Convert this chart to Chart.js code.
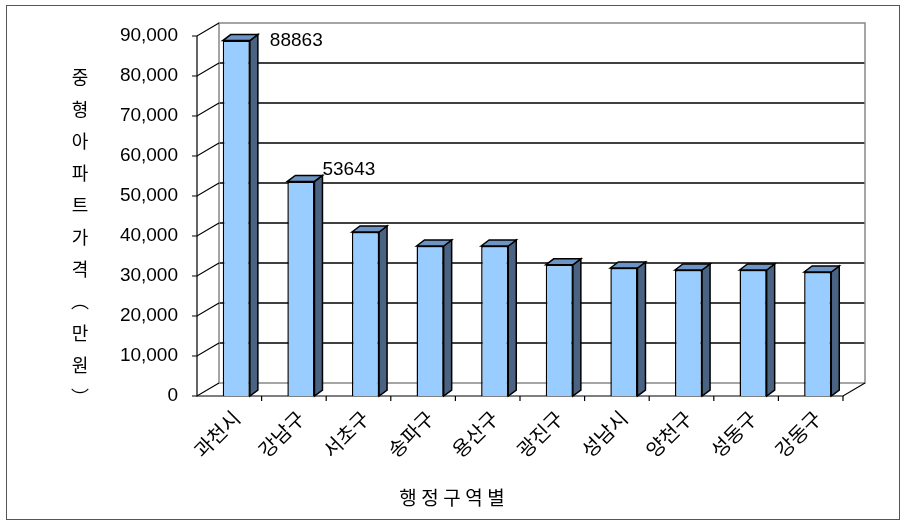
<!DOCTYPE html>
<html>
<head>
<meta charset="utf-8">
<script src="https://cdn.jsdelivr.net/npm/chart.js@4"></script>
<style>
body{margin:0;background:#fff}
#wrap{position:relative;width:906px;height:525px}
</style>
</head>
<body>
<div id="wrap"><canvas id="c" width="906" height="525"></canvas></div>
<script>

const categories=["과천시","강남구","서초구","송파구","용산구","광진구","성남시","양천구","성동구","강동구"]
const prices=[88863,53643,41000,37500,37500,32800,32000,31500,31500,31000]
const labelled=[0,1]
const yTitle="중형아파트가격︵만원︶"
const xTitle="행정구역별"

const FONT="'Liberation Sans', 'Noto Sans CJK KR', sans-serif"
const KFONT="'Noto Sans CJK KR', sans-serif"

/* 3D walls, bar faces, labels */

const threeD={
id:"threeD",
beforeDatasetsDraw(chart){
const ctx=chart.ctx, y=chart.scales.y, a=chart.chartArea
const fl=a.left-7, fr=a.right-7, dx=22, dy=-13
ctx.save()
ctx.strokeStyle="#000"
ctx.lineWidth=1.5
for(let v=10000;v<=80000;v+=10000){
let py=y.getPixelForValue(v)+dy
ctx.beginPath();ctx.moveTo(fl+dx,py);ctx.lineTo(fr+dx,py);ctx.stroke()
}
ctx.strokeStyle="#888"
ctx.lineWidth=1.5
let top=y.getPixelForValue(90000), bot=y.getPixelForValue(0)
ctx.strokeRect(fl+dx,top+dy,fr-fl,bot-top)
ctx.strokeStyle="#000"
ctx.lineWidth=1.2
for(let v=0;v<=90000;v+=10000){
let py=y.getPixelForValue(v)
ctx.beginPath();ctx.moveTo(fl-5,py);ctx.lineTo(fl,py);ctx.lineTo(fl+dx,py+dy);ctx.stroke()
}
ctx.beginPath();ctx.moveTo(fl,top);ctx.lineTo(fl,bot);ctx.lineTo(fr,bot);ctx.lineTo(fr+dx,bot+dy);ctx.stroke()
let step=(fr-fl)/categories.length
for(let i=1;i<=categories.length;i++){
ctx.beginPath();ctx.moveTo(fl+step*i,bot);ctx.lineTo(fl+step*i,bot+5);ctx.stroke()
}
ctx.restore()
},
afterDatasetsDraw(chart){
const ctx=chart.ctx
const meta=chart.getDatasetMeta(0)
const sx=8, sy=-6
ctx.save()
ctx.strokeStyle="#000"
ctx.lineWidth=1.5
meta.data.forEach((b,i)=>{
let l=b.x-b.width/2, r=b.x+b.width/2, t=b.y, bt=b.base
ctx.fillStyle="#4A6383"
ctx.beginPath();ctx.moveTo(r,t);ctx.lineTo(r+sx,t+sy);ctx.lineTo(r+sx,bt+sy);ctx.lineTo(r,bt);ctx.closePath();ctx.fill();ctx.stroke()
ctx.fillStyle="#6C94C4"
ctx.beginPath();ctx.moveTo(l,t);ctx.lineTo(l+sx,t+sy);ctx.lineTo(r+sx,t+sy);ctx.lineTo(r,t);ctx.closePath();ctx.fill();ctx.stroke()
if(labelled.includes(i)){
ctx.fillStyle="#000"
ctx.font="19px "+FONT
ctx.textBaseline="middle"
ctx.fillText(String(prices[i]),r+sx+(i==0?12:0),t+(i==0?0:-12))
}
})
/* axis titles */
ctx.fillStyle="#000"
ctx.font="18px "+KFONT
ctx.textAlign="center"
ctx.textBaseline="middle"
let chars=[...yTitle]
chars.forEach((c,k)=>ctx.fillText(c,80,77+k*32))
ctx.font="19px "+KFONT
let xs=[...xTitle]
xs.forEach((c,k)=>ctx.fillText(c,408+k*22,498))
/* outer frame */
ctx.strokeStyle="#555"
ctx.lineWidth=1
ctx.strokeRect(6.5,5.5,893,514)
ctx.restore()
}
}

new Chart(document.getElementById("c"),{
type:"bar",
data:{
labels:categories,
datasets:[{
data:prices,
backgroundColor:"#99CCFF",
borderColor:"#000",
borderWidth:1.5,
barPercentage:0.42,
categoryPercentage:1
}]
},
options:{
responsive:false,
animation:false,
layout:{padding:{top:36,right:56,left:0,bottom:0}},
plugins:{legend:{display:false},tooltip:{enabled:false}},
scales:{
x:{
grid:{display:false},
border:{display:false},
ticks:{color:"#000",font:{family:KFONT,size:20},maxRotation:45,minRotation:45,padding:2},
afterFit(s){s.height=129}
},
y:{
min:0,max:90000,
grid:{display:false},
border:{display:false},
ticks:{stepSize:10000,color:"#000",font:{family:FONT,size:19},padding:18,
callback:v=>v.toLocaleString("en-US")},
afterFit(s){s.width=204}
}
}
},
plugins:[threeD]
})

</script>
</body>
</html>
